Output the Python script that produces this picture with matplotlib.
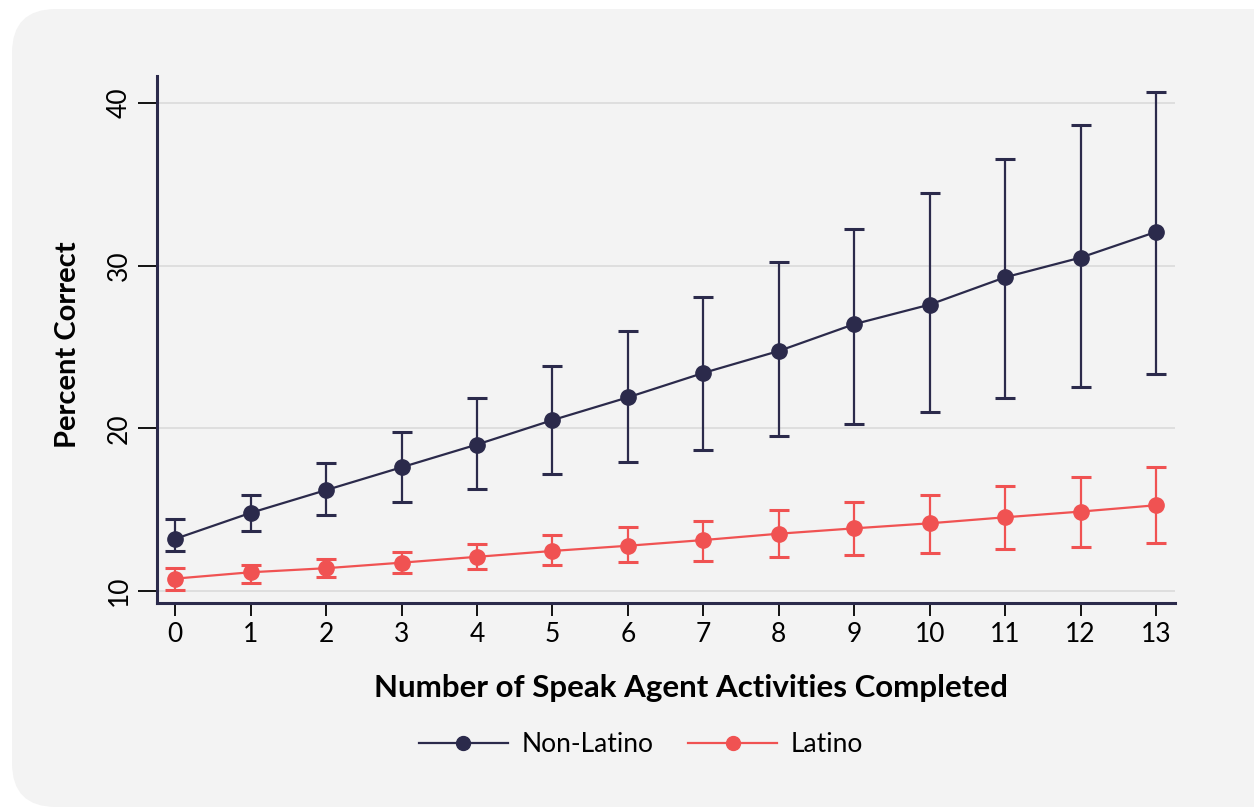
import numpy as np
import matplotlib
matplotlib.use("Agg")
import matplotlib.pyplot as plt
from matplotlib.patches import FancyBboxPatch
from matplotlib.lines import Line2D

# data
activities = list(range(14))
non_latino = [13.2, 14.8, 16.2, 17.6, 19.0, 20.5, 21.9, 23.4, 24.75, 26.4, 27.6, 29.28, 30.49, 32.07]
non_latino_lo = [12.46, 13.7, 14.67, 15.47, 16.25, 17.17, 17.93, 18.67, 19.5, 20.25, 20.98, 21.84, 22.54, 23.34]
non_latino_hi = [14.43, 15.9, 17.85, 19.79, 21.86, 23.85, 25.98, 28.05, 30.2, 32.23, 34.44, 36.57, 38.62, 40.69]
latino = [10.76, 11.15, 11.4, 11.74, 12.1, 12.46, 12.78, 13.13, 13.52, 13.85, 14.16, 14.53, 14.88, 15.27]
latino_lo = [10.06, 10.51, 10.84, 11.13, 11.37, 11.6, 11.76, 11.86, 12.09, 12.24, 12.34, 12.56, 12.72, 12.97]
latino_hi = [11.4, 11.6, 11.97, 12.38, 12.89, 13.42, 13.95, 14.3, 15.0, 15.46, 15.88, 16.47, 17.03, 17.6]
y_ticks = [10, 20, 30, 40]

navy = "#2b2a4b"
red = "#f05252"
panel = "#f3f3f3"

plt.rcParams['font.family'] = ['Lato', 'DejaVu Sans']

W, H = 1254, 809
fig = plt.figure(figsize=(W / 100, H / 100), dpi=100)
fig.patch.set_facecolor("white")

# rounded grey panel behind everything
bg = FancyBboxPatch((12 / W, 2 / H), 1290 / W, 798 / H,
                    boxstyle="round,pad=0,rounding_size=0.035",
                    transform=fig.transFigure, facecolor=panel, edgecolor="none",
                    mutation_aspect=W / H, zorder=-10)
fig.patches.append(bg)

ax = fig.add_axes([157 / W, 1 - 602.7 / H, (1175 - 157) / W, (602.7 - 76) / H])
ax.set_facecolor(panel)

def draw(vals, lo, hi, color):
    vals = np.array(vals)
    err = [vals - np.array(lo), np.array(hi) - vals]
    ax.errorbar(activities, vals, yerr=err, color=color, lw=1.6, marker="o",
                markersize=11, ecolor=color, elinewidth=1.6, capsize=7,
                capthick=2.2, zorder=3)

draw(non_latino, non_latino_lo, non_latino_hi, navy)
draw(latino, latino_lo, latino_hi, red)

ax.set_xlim(-0.24, 13.25)
ax.set_ylim(9.28, 41.65)
ax.set_xticks(activities)
ax.set_yticks(y_ticks)
ax.yaxis.grid(True, color="#dcdcdc", lw=1.3)
ax.set_axisbelow(True)

for s in ["top", "right"]:
    ax.spines[s].set_visible(False)
for s in ["left", "bottom"]:
    ax.spines[s].set_color(navy)
    ax.spines[s].set_linewidth(2.2)

ax.tick_params(axis="x", length=9, width=1.3, color="black", labelsize=19, pad=5)
ax.tick_params(axis="y", length=14, width=1.3, color="black", labelsize=19, pad=4)
for t in ax.get_yticklabels():
    t.set_rotation(90)
    t.set_va("center")

ax.set_xlabel("Number of Speak Agent Activities Completed", fontsize=22.5,
              fontweight="bold")
ax.xaxis.set_label_coords((691 - 157) / 1018, -(688 - 602.7) / 526.7)
ax.xaxis.label.set_va("center")
ax.set_ylabel("Percent Correct", fontsize=21, fontweight="bold")
ax.yaxis.set_label_coords(-(157 - 68) / 1018, (602.7 - 345) / 526.7)
ax.yaxis.label.set_va("center")

handles = [Line2D([], [], color=navy, lw=1.6, marker="o", markersize=10),
           Line2D([], [], color=red, lw=1.6, marker="o", markersize=10)]
fig.legend(handles, ["Non-Latino", "Latino"], loc="center",
           bbox_to_anchor=(0.511, 1 - 745 / H), ncol=2,
           frameon=False, fontsize=19, handlelength=3.4, handletextpad=0.5,
           columnspacing=1.3)

fig.savefig("out.png", dpi=100, facecolor=fig.get_facecolor())
